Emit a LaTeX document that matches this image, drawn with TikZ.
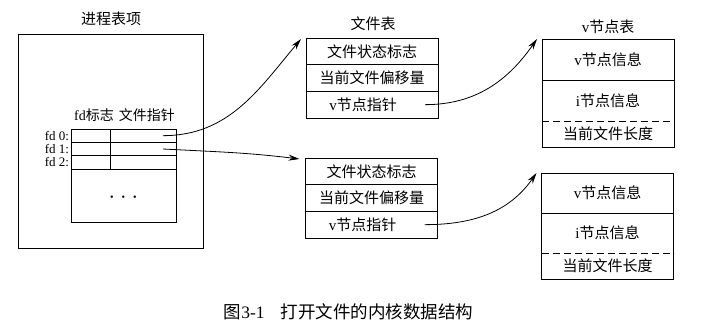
\documentclass[tikz,border=0pt]{standalone}
\usepackage{fontspec}
\setmainfont{Liberation Serif}
\newfontfamily\cjk{Noto Sans CJK SC}
\newcommand{\zh}[1]{{\cjk #1}}
\usetikzlibrary{arrows.meta, positioning}

\begin{document}
\begin{tikzpicture}[x=1pt, y=-1pt, line width=0.9pt,
        every node/.style={inner sep=0pt, outer sep=0pt},
        title/.style={font=\fontsize{15}{17}\selectfont},
        fcell/.style={draw, minimum width=132pt, minimum height=26.67pt, font=\fontsize{15}{17}\selectfont},
        vrow/.style={minimum width=132pt, font=\fontsize{15}{17}\selectfont},
        fdcell/.style={draw, minimum height=13.33pt},
        fdlab/.style={anchor=east, font=\fontsize{13}{14}\selectfont},
        ptr/.style={-{Stealth[length=11pt, width=6pt]}, line width=0.8pt}]
        \useasboundingbox (0,0) rectangle (702,328);
        % process table entry
        \node[title] (proct) at (111,19) {\zh{进程表项}};
        \node[draw, minimum width=185pt, minimum height=214pt] (proc) at (110.5,141) {};
        \node[font=\fontsize{14}{16}\selectfont] (fdhead) at (124.5,115) {fd\zh{标志}\hspace{5pt}\zh{文件指针}};
        \foreach \i in {0,1,2} {
          \node[fdcell, minimum width=39pt] (fl\i) at (90.5,{135.67+13.33*\i}) {};
          \node[fdcell, minimum width=66pt] (pt\i) at (143,{135.67+13.33*\i}) {};
          \node[fdlab] (fdl\i) at ([xshift=-2pt]fl\i.west) {fd \i:};
        }
        \node[draw, minimum width=105pt, minimum height=53pt] (fdrest) at (123.5,195.5) {};
        \node[font=\fontsize{10}{10}\selectfont] (dots) at (123.5,198) {\textbullet\hspace{8pt}\textbullet\hspace{8pt}\textbullet};
        \coordinate (p0) at ([xshift=-13pt]pt0.east);
        \coordinate (p1) at ([xshift=-13pt]pt1.east);
        % file tables
        \node[title] (ftt) at (373,24) {\zh{文件表}};
        \node[fcell] (fa1) at (372,51.33) {\zh{文件状态标志}};
        \node[fcell, below=0pt of fa1] (fa2) {\zh{当前文件偏移量}};
        \node[fcell, below=0pt of fa2] (fa3) {v\zh{节点指针}\hspace*{18pt}};
        \node[fcell] (fb1) at (371.5,171.33) {\zh{文件状态标志}};
        \node[fcell, below=0pt of fb1] (fb2) {\zh{当前文件偏移量}};
        \node[fcell, below=0pt of fb2] (fb3) {v\zh{节点指针}\hspace*{18pt}};
        \coordinate (va) at ([xshift=-13pt]fa3.east);
        \coordinate (vb) at ([xshift=-13pt]fb3.east);
        % v-node tables
        \node[title] (vtt) at (608,27) {v\zh{节点表}};
        \node[vrow, minimum height=41pt] (via) at (608,59.5) {v\zh{节点信息}};
        \node[vrow, minimum height=41pt, below=0pt of via] (iia) {i\zh{节点信息}};
        \node[vrow, minimum height=26pt, below=0pt of iia] (lna) {\zh{当前文件长度}};
        \draw (via.north west) rectangle (lna.south east);
        \draw (via.south west) -- (via.south east);
        \draw[dash pattern=on 7pt off 4pt] (iia.south west) -- (iia.south east);
        \node[vrow, minimum height=40pt] (vib) at (607.5,193) {v\zh{节点信息}};
        \node[vrow, minimum height=40pt, below=0pt of vib] (iib) {i\zh{节点信息}};
        \node[vrow, minimum height=26pt, below=0pt of iib] (lnb) {\zh{当前文件长度}};
        \draw (vib.north west) rectangle (lnb.south east);
        \draw (vib.south west) -- (vib.south east);
        \draw[dash pattern=on 7pt off 4pt] (iib.south west) -- (iib.south east);
        % pointers
        \draw[ptr] (p0) to[out=0, in=230] ([xshift=-5pt, yshift=-1pt]fa1.north west);
        \draw[ptr] (p1) to[out=-3, in=173] ([xshift=-6pt, yshift=-1pt]fb1.north west);
        \draw[ptr] (va) to[out=0, in=235] ([xshift=-5pt]via.north west);
        \draw[ptr] (vb) to[out=0, in=235] ([xshift=-5pt]vib.north west);
        \node[font=\fontsize{17.5}{19}\selectfont] (cap) at (348.5,312) {\zh{图}3-1\hspace{16pt}\zh{打开文件的内核数据结构}};
\end{tikzpicture}
\end{document}
